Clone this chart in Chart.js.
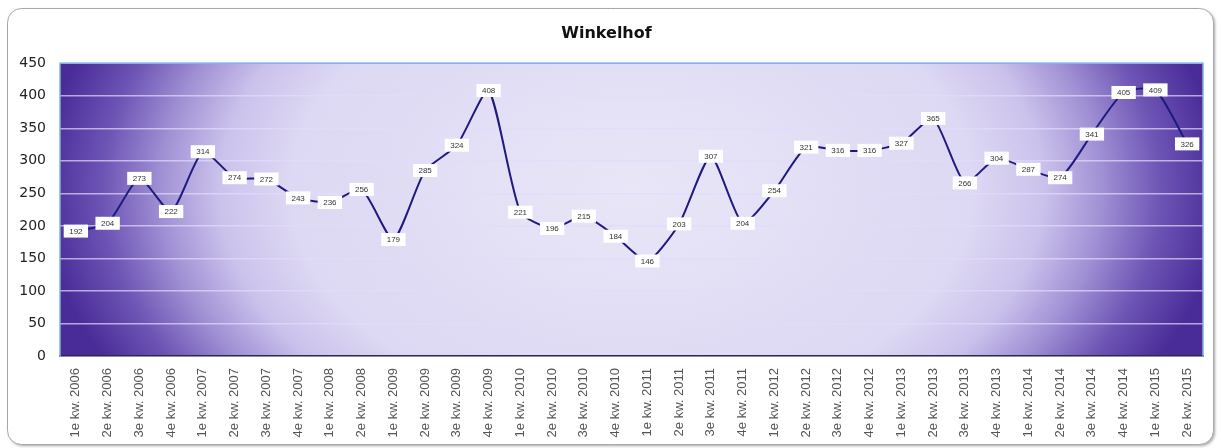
<!DOCTYPE html>
<html>
<head>
<meta charset="utf-8">
<script src="https://cdn.jsdelivr.net/npm/chart.js@4/dist/chart.umd.min.js"></script>
<style>
  html, body { margin: 0; padding: 0; background: #fff; }
  #wrap { position: relative; width: 1221px; height: 448px; }
</style>
</head>
<body>
<div id="wrap"><canvas id="chart" width="1221" height="448"></canvas></div>
<script>
// Kwartalen (x-as)
const quarters = [
    '1e kw. 2006', '2e kw. 2006', '3e kw. 2006', '4e kw. 2006',
    '1e kw. 2007', '2e kw. 2007', '3e kw. 2007', '4e kw. 2007',
    '1e kw. 2008', '2e kw. 2008',
    '1e kw. 2009', '2e kw. 2009', '3e kw. 2009', '4e kw. 2009',
    '1e kw. 2010', '2e kw. 2010', '3e kw. 2010', '4e kw. 2010',
    '1e kw. 2011', '2e kw. 2011', '3e kw. 2011', '4e kw. 2011',
    '1e kw. 2012', '2e kw. 2012', '3e kw. 2012', '4e kw. 2012',
    '1e kw. 2013', '2e kw. 2013', '3e kw. 2013', '4e kw. 2013',
    '1e kw. 2014', '2e kw. 2014', '3e kw. 2014', '4e kw. 2014',
    '1e kw. 2015', '2e kw. 2015'
];

// Waarden Winkelhof
const winkelhof = [
    192, 204, 273, 222,
    314, 274, 272, 243,
    236, 256,
    179, 285, 324, 408,
    221, 196, 215, 184,
    146, 203, 307, 204,
    254, 321, 316, 316,
    327, 365, 266, 304,
    287, 274, 341, 405,
    409, 326
];

const yMin = 0;
const yMax = 450;
const yStep = 50;

// rounded frame + purple gradient behind the plot
const backgroundPlugin = {
    id: 'background',
    beforeDraw(chart) {
        const ctx = chart.ctx;
        const a = chart.chartArea;

        ctx.save();
        // outer frame
        ctx.shadowColor = 'rgba(0,0,0,0.35)';
        ctx.shadowBlur = 3;
        ctx.shadowOffsetX = 1.5;
        ctx.shadowOffsetY = 1.5;
        ctx.beginPath();
        ctx.roundRect(7.5, 8.5, 1206, 436, 14);
        ctx.fillStyle = '#fff';
        ctx.fill();
        ctx.shadowColor = 'transparent';
        ctx.strokeStyle = '#a8a8a8';
        ctx.lineWidth = 1;
        ctx.stroke();
        ctx.restore();

        // elliptical gradient in the plot area, wide so it reads mostly left/right
        const cx = (a.left + a.right) / 2;
        const cy = (a.top + a.bottom) / 2 - 20;
        const rx = (a.right - a.left) / 2 * 1.03;
        const ry = (a.bottom - a.top) / 2 * 2.6;
        ctx.save();
        ctx.beginPath();
        ctx.rect(a.left, a.top, a.right - a.left, a.bottom - a.top);
        ctx.clip();
        ctx.translate(cx, cy);
        ctx.scale(1, ry / rx);
        const g = ctx.createRadialGradient(0, 0, 0, 0, 0, rx);
        g.addColorStop(0, '#e9e6f8');
        g.addColorStop(0.58, '#ddd8f3');
        g.addColorStop(0.7, '#cbc2ec');
        g.addColorStop(0.8, '#a090d4');
        g.addColorStop(0.9, '#6c54b4');
        g.addColorStop(1, '#4a2c98');
        ctx.fillStyle = g;
        ctx.fillRect(-rx * 1.2, -rx * 1.2, rx * 2.4, rx * 2.4);
        ctx.restore();
    },
    beforeDatasetsDraw(chart) {
        const ctx = chart.ctx;
        const a = chart.chartArea;
        ctx.save();
        ctx.strokeStyle = '#7fb2e6';
        ctx.lineWidth = 1.5;
        ctx.beginPath();
        ctx.moveTo(a.left, a.bottom);
        ctx.lineTo(a.left, a.top);
        ctx.lineTo(a.right, a.top);
        ctx.lineTo(a.right, a.bottom);
        ctx.stroke();
        ctx.restore();
    }
};

// white boxes with the values on every point
const valueLabels = {
    id: 'valueLabels',
    afterDatasetsDraw(chart) {
        const ctx = chart.ctx;
        const meta = chart.getDatasetMeta(0);
        ctx.save();
        ctx.font = '8px "Liberation Sans", Arial, sans-serif';
        ctx.textAlign = 'center';
        ctx.textBaseline = 'middle';
        meta.data.forEach(function(pt, i) {
            const txt = String(chart.data.datasets[0].data[i]);
            const w = ctx.measureText(txt).width + 11;
            const h = 13;
            ctx.fillStyle = '#ffffff';
            ctx.fillRect(pt.x - w / 2, pt.y - h / 2, w, h);
            ctx.fillStyle = '#333333';
            ctx.fillText(txt, pt.x, pt.y + 0.5);
        });
        ctx.restore();
    }
};

new Chart(document.getElementById('chart'), {
    type: 'line',
    data: {
        labels: quarters,
        datasets: [{
            label: 'Winkelhof',
            data: winkelhof,
            borderColor: '#1f1b7e',
            borderWidth: 2,
            pointRadius: 0,
            tension: 0.2,
            fill: false
        }]
    },
    options: {
        responsive: false,
        animation: false,
        layout: {
            padding: { top: 14, right: 18, bottom: 0, left: 10 }
        },
        plugins: {
            legend: { display: false },
            tooltip: { enabled: false },
            title: {
                display: true,
                text: 'Winkelhof',
                color: '#111',
                font: { family: '"DejaVu Sans", Verdana, sans-serif', size: 16, weight: 'bold' },
                padding: { top: 10, bottom: 20 }
            }
        },
        scales: {
            x: {
                offset: true,
                grid: { display: false },
                border: { color: '#2b2b45', width: 1.5 },
                ticks: {
                    color: '#555',
                    font: { family: '"Liberation Sans", Arial, sans-serif', size: 13 },
                    minRotation: 90,
                    maxRotation: 90,
                    autoSkip: false,
                    padding: 4
                },
                afterFit(scale) { scale.height = 92; }
            },
            y: {
                min: yMin,
                max: yMax,
                grid: {
                    color: 'rgba(226, 220, 252, 0.7)',
                    lineWidth: 1.5,
                    drawTicks: false
                },
                border: { display: false },
                ticks: {
                    stepSize: yStep,
                    color: '#222',
                    padding: 14,
                    font: { family: '"DejaVu Sans", Verdana, sans-serif', size: 14 }
                },
                afterFit(scale) { scale.width = 50; }
            }
        }
    },
    plugins: [backgroundPlugin, valueLabels]
});
</script>
</body>
</html>
